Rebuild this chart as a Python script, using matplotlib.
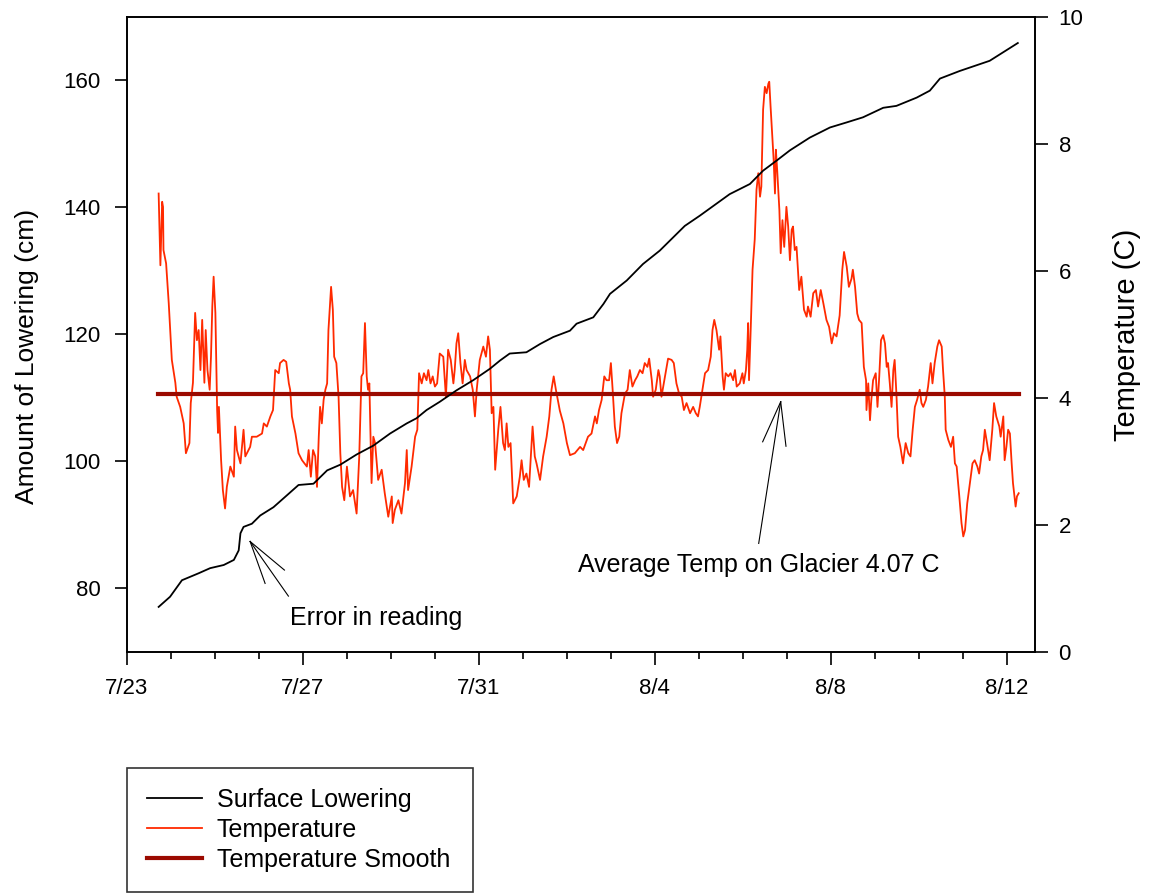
import matplotlib
matplotlib.use("Agg")
import matplotlib.pyplot as plt
import numpy as np

plt.rcParams['font.family'] = ['Liberation Sans', 'DejaVu Sans']
plt.rcParams['font.size'] = 16

# x values are days since 7/23 00:00
temp_day = [0.72, 0.76, 0.80, 0.82, 0.83, 0.89, 0.95, 1.02, 1.10, 1.13, 1.21, 1.29, 1.34, 1.42, 1.45,
            1.50, 1.55, 1.59, 1.63, 1.67, 1.71, 1.76, 1.79, 1.83, 1.88, 1.91, 1.94, 1.97, 2.01, 2.05,
            2.07, 2.09, 2.14, 2.18, 2.23, 2.27, 2.35, 2.43, 2.46, 2.50, 2.58, 2.65, 2.69, 2.80, 2.84,
            2.95, 3.07, 3.11, 3.18, 3.26, 3.32, 3.37, 3.45, 3.48, 3.56, 3.62, 3.68, 3.71, 3.75, 3.83,
            3.90, 3.98, 4.09, 4.13, 4.18, 4.23, 4.28, 4.32, 4.36, 4.39, 4.43, 4.47, 4.51, 4.55, 4.58,
            4.64, 4.68, 4.71, 4.76, 4.81, 4.85, 4.89, 4.94, 5.00, 5.07, 5.14, 5.22, 5.28, 5.33, 5.37,
            5.41, 5.45, 5.48, 5.51, 5.56, 5.60, 5.64, 5.71, 5.79, 5.86, 5.94, 6.02, 6.04, 6.09, 6.17,
            6.24, 6.32, 6.36, 6.39, 6.47, 6.55, 6.60, 6.64, 6.70, 6.75, 6.81, 6.85, 6.90, 6.95, 7.00,
            7.05, 7.11, 7.19, 7.25, 7.30, 7.36, 7.42, 7.45, 7.49, 7.53, 7.58, 7.63, 7.68, 7.72, 7.80,
            7.86, 7.91, 7.95, 8.02, 8.10, 8.16, 8.21, 8.25, 8.29, 8.33, 8.37, 8.44, 8.49, 8.55, 8.59,
            8.63, 8.67, 8.72, 8.78, 8.86, 8.93, 8.97, 9.02, 9.08, 9.14, 9.22, 9.27, 9.31, 9.39, 9.46,
            9.54, 9.60, 9.65, 9.70, 9.75, 9.84, 9.92, 10.00, 10.07, 10.18, 10.30, 10.37, 10.48, 10.56, 10.64,
            10.68, 10.73, 10.79, 10.85, 10.90, 10.96, 11.00, 11.04, 11.09, 11.14, 11.19, 11.24, 11.32, 11.38, 11.43,
            11.49, 11.55, 11.60, 11.66, 11.72, 11.77, 11.83, 11.87, 11.93, 11.96, 12.02, 12.08, 12.11, 12.15, 12.23,
            12.30, 12.38, 12.43, 12.49, 12.55, 12.61, 12.66, 12.72, 12.80, 12.87, 12.93, 12.98, 13.02, 13.08, 13.14,
            13.21, 13.27, 13.31, 13.35, 13.40, 13.46, 13.49, 13.54, 13.57, 13.61, 13.67, 13.72, 13.78, 13.82, 13.86,
            13.93, 13.99, 14.02, 14.07, 14.10, 14.12, 14.14, 14.18, 14.22, 14.27, 14.31, 14.35, 14.39, 14.42, 14.46,
            14.50, 14.54, 14.58, 14.60, 14.63, 14.68, 14.70, 14.73, 14.75, 14.78, 14.83, 14.86, 14.90, 14.94, 14.99,
            15.03, 15.07, 15.11, 15.14, 15.18, 15.22, 15.28, 15.33, 15.39, 15.45, 15.48, 15.54, 15.60, 15.66, 15.71,
            15.77, 15.83, 15.90, 15.96, 16.02, 16.07, 16.13, 16.20, 16.26, 16.30, 16.36, 16.41, 16.47, 16.50, 16.55,
            16.60, 16.64, 16.70, 16.75, 16.80, 16.81, 16.85, 16.89, 16.92, 16.96, 17.02, 17.06, 17.10, 17.14, 17.19,
            17.23, 17.27, 17.30, 17.34, 17.38, 17.42, 17.45, 17.49, 17.53, 17.58, 17.64, 17.70, 17.76, 17.81, 17.86,
            17.91, 17.96, 18.02, 18.06, 18.10, 18.16, 18.21, 18.27, 18.31, 18.36, 18.42, 18.46, 18.52, 18.55, 18.59,
            18.61, 18.67, 18.73, 18.78, 18.82, 18.86, 18.92, 18.97, 19.01, 19.05, 19.10, 19.16, 19.22, 19.27, 19.33,
            19.37, 19.42, 19.46, 19.50, 19.55, 19.61, 19.67, 19.71, 19.76, 19.83, 19.86, 19.92, 19.95, 19.99, 20.03,
            20.07, 20.11, 20.14, 20.20, 20.23, 20.27]

temp_c = [7.22, 6.09, 7.09, 7.01, 6.33, 6.12, 5.49, 4.60, 4.24, 4.02, 3.86, 3.60, 3.13, 3.29, 3.92,
          4.24, 5.34, 4.91, 5.07, 4.44, 5.23, 4.24, 5.07, 4.44, 4.13, 4.65, 5.44, 5.91, 5.34, 3.81,
          3.45, 3.86, 3.02, 2.55, 2.26, 2.60, 2.92, 2.76, 3.55, 3.18, 2.97, 3.50, 3.08, 3.23, 3.39,
          3.39, 3.44, 3.60, 3.55, 3.71, 3.81, 4.44, 4.39, 4.55, 4.60, 4.57, 4.23, 4.13, 3.71, 3.44,
          3.13, 3.02, 2.92, 3.18, 2.76, 3.18, 3.08, 2.60, 3.39, 3.86, 3.60, 3.97, 4.13, 4.23, 5.07,
          5.75, 5.39, 4.65, 4.55, 4.02, 3.13, 2.60, 2.39, 2.92, 2.45, 2.55, 2.18, 3.08, 4.34, 4.39,
          5.18, 4.34, 4.13, 4.23, 2.66, 3.39, 3.29, 2.71, 2.87, 2.50, 2.13, 2.45, 2.03, 2.24, 2.39,
          2.18, 2.66, 3.18, 2.55, 2.92, 3.39, 3.50, 4.39, 4.23, 4.39, 4.28, 4.44, 4.23, 4.34, 4.18,
          4.23, 4.70, 4.65, 4.02, 4.76, 4.60, 4.23, 4.44, 4.86, 5.02, 4.55, 4.23, 4.60, 4.44, 4.34,
          4.13, 3.71, 4.13, 4.60, 4.81, 4.65, 4.97, 4.76, 3.76, 3.86, 2.87, 3.50, 3.86, 3.29, 3.18,
          3.60, 3.23, 3.29, 2.34, 2.45, 2.76, 3.02, 2.71, 2.81, 2.60, 3.55, 3.08, 2.97, 2.71, 3.08,
          3.39, 3.71, 4.13, 4.34, 4.13, 3.80, 3.60, 3.29, 3.10, 3.13, 3.23, 3.18, 3.39, 3.44, 3.71,
          3.60, 3.81, 3.97, 4.34, 4.28, 4.28, 4.55, 4.13, 3.55, 3.29, 3.39, 3.76, 4.07, 4.13, 4.44,
          4.18, 4.28, 4.34, 4.44, 4.39, 4.55, 4.49, 4.62, 4.28, 4.02, 4.13, 4.44, 4.34, 4.02, 4.34,
          4.62, 4.60, 4.55, 4.23, 4.07, 4.02, 3.81, 3.92, 3.76, 3.86, 3.76, 3.71, 3.86, 4.13, 4.39,
          4.44, 4.65, 5.07, 5.23, 5.07, 4.76, 4.97, 4.34, 4.13, 4.39, 4.34, 4.39, 4.28, 4.44, 4.18,
          4.23, 4.39, 4.23, 4.44, 4.76, 5.18, 4.28, 5.12, 6.02, 6.50, 7.28, 7.54, 7.17, 7.33, 8.54,
          8.90, 8.80, 8.95, 8.98, 8.59, 8.01, 7.75, 7.22, 7.91, 7.59, 6.96, 6.28, 6.80, 6.38, 7.01,
          6.70, 6.17, 6.65, 6.70, 6.33, 6.38, 5.70, 5.91, 5.39, 5.28, 5.44, 5.28, 5.65, 5.70, 5.44,
          5.70, 5.49, 5.23, 5.12, 4.86, 5.02, 4.97, 5.30, 6.02, 6.30, 6.07, 5.75, 5.88, 6.02, 5.75,
          5.33, 5.23, 5.18, 4.49, 4.28, 3.81, 4.23, 3.65, 3.97, 4.28, 4.39, 3.86, 4.34, 4.91, 4.99,
          4.86, 4.49, 4.55, 4.23, 3.86, 4.44, 4.60, 4.07, 3.39, 3.23, 2.97, 3.29, 3.13, 3.08, 3.50,
          3.86, 3.97, 4.13, 3.92, 3.86, 3.97, 4.18, 4.55, 4.23, 4.55, 4.81, 4.91, 4.81, 4.44, 4.02,
          3.50, 3.34, 3.23, 3.39, 2.97, 2.92, 2.45, 2.03, 1.82, 1.92, 2.34, 2.66, 2.97, 3.02, 2.92,
          2.81, 3.08, 3.18, 3.50, 3.29, 3.02, 3.50, 3.92, 3.71, 3.55, 3.39, 3.71, 3.02, 3.23, 3.50,
          3.44, 2.97, 2.66, 2.29, 2.45, 2.50]

low_day = [0.72, 0.98, 1.25, 1.63, 1.89, 2.20, 2.43, 2.54, 2.58, 2.65, 2.84, 3.03, 3.33, 3.64, 3.90,
           4.24, 4.55, 4.85, 5.22, 5.60, 5.98, 6.36, 6.58, 6.81, 7.11, 7.49, 7.87, 8.25, 8.48, 8.70,
           9.08, 9.39, 9.69, 10.07, 10.22, 10.60, 10.83, 10.98, 11.36, 11.73, 12.11, 12.68, 13.02, 13.70, 14.16,
           14.46, 14.77, 15.07, 15.52, 15.98, 16.36, 16.73, 17.19, 17.49, 17.95, 18.25, 18.48, 18.93, 19.61, 20.25]
low_cm = [77.1, 78.7, 81.3, 82.4, 83.2, 83.7, 84.5, 86.0, 88.7, 89.7, 90.2, 91.5, 92.8, 94.7, 96.3,
          96.5, 98.6, 99.5, 101.1, 102.5, 104.4, 106.0, 106.8, 108.1, 109.4, 111.2, 112.8, 114.6, 115.9, 117.0,
          117.2, 118.5, 119.6, 120.6, 121.7, 122.7, 124.8, 126.4, 128.5, 131.1, 133.2, 137.1, 138.7, 142.1, 143.7,
          145.8, 147.4, 149.0, 151.0, 152.6, 153.4, 154.2, 155.7, 156.0, 157.3, 158.4, 160.3, 161.5, 163.1, 165.9]

smooth_day = [0.70, 20.27]
smooth_c = [4.07, 4.07]

tick_days = [0, 4, 8, 12, 16, 20]
tick_labels = ['7/23', '7/27', '7/31', '8/4', '8/8', '8/12']

fig = plt.figure(figsize=(11.51, 8.94), dpi=100)
ax = fig.add_axes([0.1103, 0.2707, 0.7889, 0.7103])
ax2 = ax.twinx()

l1, = ax.plot(low_day, low_cm, color='black', lw=1.3, label='Surface Lowering')
l2, = ax2.plot(temp_day, temp_c, color='#ff2a00', lw=1.3, label='Temperature')
l3, = ax2.plot(smooth_day, smooth_c, color='#9b0a00', lw=3, label='Temperature Smooth')
ax.set_zorder(ax2.get_zorder() + 1)
ax.patch.set_visible(False)

ax.set_xlim(0, 20.64)
ax.set_ylim(70, 170)
ax2.set_ylim(0, 10)
ax.set_xticks(tick_days)
ax.set_xticklabels(tick_labels)
ax.set_xticks(np.arange(0, 21, 1), minor=True)
ax.set_yticks([80, 100, 120, 140, 160])
ax2.set_yticks([0, 2, 4, 6, 8, 10])

ax.tick_params(axis='both', which='major', direction='out', length=9, width=1.2, labelsize=16, pad=10)
ax.tick_params(axis='x', which='minor', direction='out', length=5, width=1.2)
ax2.tick_params(axis='y', direction='out', length=9, width=1.2, labelsize=16, pad=8)
for a in (ax, ax2):
    for s in a.spines.values():
        s.set_linewidth(1.2)

ax.set_ylabel('Amount of Lowering (cm)', fontsize=19)
ax.yaxis.set_label_coords(-0.097, 0.466)
ax2.set_ylabel('Temperature (C)', fontsize=21)
ax2.yaxis.set_label_coords(1.086, 0.50)

# annotation lines (data coords on left axis)
ax.plot([2.80, 3.14], [87.4, 80.8], color='black', lw=0.8)
ax.plot([2.80, 3.67], [87.4, 78.8], color='black', lw=0.8)
ax.plot([2.80, 3.58], [87.4, 82.9], color='black', lw=0.8)
ax.text(3.70, 75.35, 'Error in reading', fontsize=18, va='center', ha='left')

ax.plot([14.86, 14.45], [109.4, 103.1], color='black', lw=0.8)
ax.plot([14.86, 14.98], [109.4, 102.4], color='black', lw=0.8)
ax.plot([14.86, 14.36], [109.4, 87.1], color='black', lw=0.8)
ax.text(10.25, 83.7, 'Average Temp on Glacier 4.07 C', fontsize=18, va='center', ha='left')

leg = fig.legend(handles=[l1, l2, l3], loc='lower left',
                 bbox_to_anchor=(0.1103, 0.0022, 0.301, 0.138), mode='expand',
                 fontsize=18, frameon=True, fancybox=False, edgecolor='black',
                 borderpad=0.8, labelspacing=0.25, handlelength=2.2, handletextpad=0.6,
                 borderaxespad=0)
leg.get_frame().set_linewidth(1.2)

fig.savefig('out.png', dpi=100)
